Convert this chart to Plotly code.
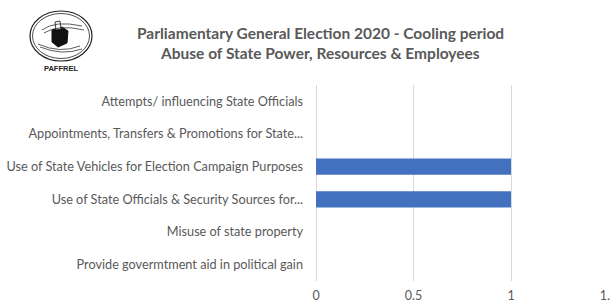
import plotly.graph_objects as go

categories = [
    "Attempts/ influencing State Officials",
    "Appointments, Transfers & Promotions for State...",
    "Use of State Vehicles for Election Campaign Purposes",
    "Use of State Officials & Security Sources for...",
    "Misuse of state property",
    "Provide govermtment aid in political gain",
]
values = [0, 0, 1, 1, 0, 0]
tick_vals = [0, 0.5, 1, 1.5]
tick_text = ["0", "0.5", "1", "1.5"]
title_lines = [
    "Parliamentary General Election 2020 - Cooling period",
    "Abuse of State Power, Resources & Employees",
]

W, H = 611, 304
L, R, T, B = 316, 2, 85, 23
pw, ph = W - L - R, H - T - B
x_max = pw / 195.0

def px(x):
    return (x - L) / pw

def py(y):
    return (H - B - y) / ph

fig = go.Figure()
fig.add_trace(go.Bar(
    x=values, y=categories, orientation="h",
    marker=dict(color="#4470C0", line=dict(width=0)),
    width=0.5,
))

shapes = []
# logo ellipses
for (rx, ry, w) in [(31, 25, 1.2), (28.5, 22.5, 0.8)]:
    shapes.append(dict(type="circle", xref="paper", yref="paper",
                       x0=px(61 - rx), x1=px(61 + rx), y0=py(36 + ry), y1=py(36 - ry),
                       line=dict(color="#222222", width=w), fillcolor="rgba(0,0,0,0)"))
# ballot box
def path(pts):
    s = "M " + " L ".join(f"{px(a):.5f},{py(b):.5f}" for a, b in pts) + " Z"
    return s
shapes.append(dict(type="path", xref="paper", yref="paper",
                   path=path([(52, 30), (62, 27), (68, 31), (67, 43), (58, 47), (52, 42)]),
                   fillcolor="#111111", line=dict(color="#111111", width=1)))
shapes.append(dict(type="path", xref="paper", yref="paper",
                   path=path([(55, 22), (60, 21), (61, 29), (56, 30)]),
                   fillcolor="white", line=dict(color="#111111", width=0.8)))
# hands
def curve(pts):
    s = f"M {px(pts[0][0]):.5f},{py(pts[0][1]):.5f} Q {px(pts[1][0]):.5f},{py(pts[1][1]):.5f} {px(pts[2][0]):.5f},{py(pts[2][1]):.5f}"
    return s
for pts in [[(42, 30), (55, 20), (82, 26)], [(44, 33), (58, 24), (84, 30)],
            [(38, 44), (60, 54), (80, 46)], [(40, 47), (62, 56), (82, 49)]]:
    shapes.append(dict(type="path", xref="paper", yref="paper", path=curve(pts),
                       line=dict(color="#333333", width=0.8)))

annotations = [
    dict(text="PAFFREL", xref="paper", yref="paper", x=px(61), y=py(68),
         showarrow=False, font=dict(family="Liberation Sans", size=7.5, color="#222222", weight="bold"),
         xanchor="center", yanchor="middle"),
    dict(text=title_lines[0], xref="paper", yref="paper", x=px(320), y=py(33),
         showarrow=False, font=dict(family="Lato", size=15.5, color="#595959", weight="bold"),
         xanchor="center", yanchor="middle"),
    dict(text=title_lines[1], xref="paper", yref="paper", x=px(320), y=py(53),
         showarrow=False, font=dict(family="Lato", size=15.5, color="#595959", weight="bold"),
         xanchor="center", yanchor="middle"),
]

fig.update_layout(
    width=W, height=H,
    margin=dict(l=L, r=R, t=T, b=B, autoexpand=False),
    paper_bgcolor="white", plot_bgcolor="white",
    showlegend=False,
    shapes=shapes,
    annotations=annotations,
    xaxis=dict(range=[0, x_max], tickvals=tick_vals, ticktext=tick_text,
               showgrid=True, gridcolor="#D9D9D9", gridwidth=1,
               zeroline=True, zerolinecolor="#D9D9D9", zerolinewidth=1,
               showline=False, ticks="", ticklen=0, ticklabelstandoff=5,
               ticklabeloverflow="allow",
               tickfont=dict(family="Lato", size=12.5, color="#595959")),
    yaxis=dict(autorange="reversed", showgrid=False, showline=False, ticks="",
               ticklabelstandoff=12,
               tickfont=dict(family="Lato", size=12.7, color="#595959")),
)

fig.write_html("out.html", config={"displayModeBar": False},
               post_script="document.body.style.margin='0';")
